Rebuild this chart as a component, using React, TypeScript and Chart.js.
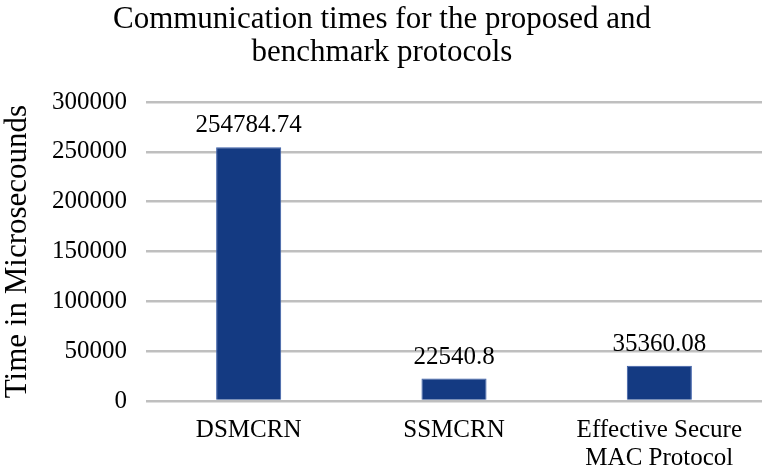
import React, { useEffect, useRef } from "react";
import { Chart, registerables } from "chart.js";

Chart.register(...registerables);

const categories: (string | string[])[] = ["DSMCRN", "SSMCRN", ["Effective Secure", "MAC Protocol"]];
const values: number[] = [254784.74, 22540.8, 35360.08];
const valueLabels: string[] = ["254784.74", "22540.8", "35360.08"];
const titleLines: string[] = ["Communication times for the proposed and", "benchmark protocols"];
const yTitle = "Time in Microsecounds";

const FONT = "'Liberation Serif', 'Times New Roman', serif";

const dataLabelPlugin = {
  id: "dataLabels",
  afterDatasetsDraw(chart: any) {
    const ctx = chart.ctx;
    const meta = chart.getDatasetMeta(0);
    ctx.save();
    ctx.font = `25px ${FONT}`;
    ctx.fillStyle = "#000";
    ctx.textAlign = "center";
    ctx.textBaseline = "bottom";
    meta.data.forEach((bar: any, i: number) => {
      ctx.fillText(valueLabels[i], bar.x, bar.y - 9);
    });
    ctx.restore();
  },
};

export default function App() {
  const ref = useRef<HTMLCanvasElement>(null);
  useEffect(() => {
    if (!ref.current) return;
    const chart = new Chart(ref.current, {
      type: "bar",
      data: {
        labels: categories,
        datasets: [
          {
            data: values,
            backgroundColor: "#143a82",
            borderColor: "#3b5ea8",
            borderWidth: 1,
            categoryPercentage: 1,
            barPercentage: 0.317,
          },
        ],
      },
      options: {
        animation: false,
        responsive: true,
        maintainAspectRatio: false,
        layout: { padding: { left: 2, right: 1, top: 2, bottom: -19 } },
        plugins: {
          legend: { display: false },
          tooltip: { enabled: false },
          title: {
            display: true,
            text: titleLines,
            color: "#000",
            font: { family: FONT, size: 31, weight: "normal", lineHeight: 1.05 },
            padding: { top: 2, bottom: 33 },
          },
        },
        scales: {
          x: {
            grid: { display: false, drawTicks: false },
            border: { display: false },
            ticks: {
              color: "#000",
              font: { family: FONT, size: 25, lineHeight: 1.1 },
              padding: 16,
              maxRotation: 0,
              autoSkip: false,
            },
          },
          y: {
            min: 0,
            max: 300000,
            grid: { color: "#bfbfbf", lineWidth: 2.5, drawTicks: false },
            border: { display: false },
            ticks: {
              stepSize: 50000,
              color: "#000",
              font: { family: FONT, size: 25 },
              padding: 19,
              callback: (v: any) => String(v),
            },
            title: {
              display: true,
              text: yTitle,
              color: "#000",
              font: { family: FONT, size: 31, lineHeight: 1.0 },
              padding: { top: 0, bottom: 0 },
            },
          },
        },
      },
      plugins: [dataLabelPlugin],
    });
    return () => chart.destroy();
  }, []);
  return (
    <div style={{ position: "absolute", left: 0, top: 0, width: 763, height: 469, background: "#fff" }}>
      <canvas ref={ref} />
    </div>
  );
}
